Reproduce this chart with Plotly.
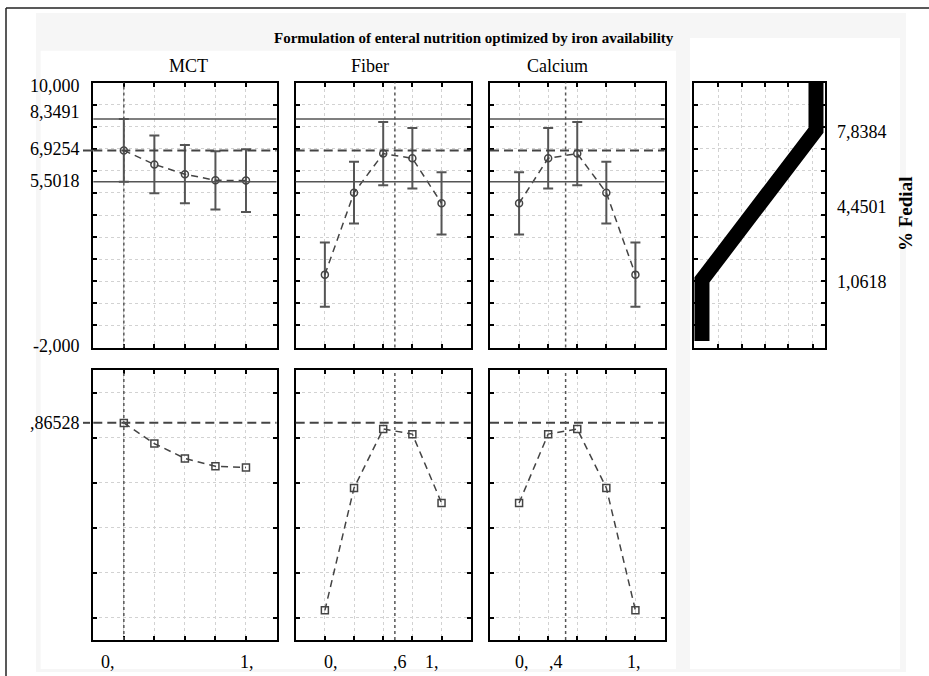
import plotly.graph_objects as go

W, H = 929, 676

# ---------------- data ----------------
levels = [0, 0.25, 0.5, 0.75, 1]
mct_pred = [6.9254, 6.29, 5.85, 5.57, 5.56]
mct_err = [1.4237, 1.31, 1.32, 1.32, 1.42]
fiber_pred = [1.30, 5.01, 6.78, 6.57, 4.53]
fiber_err = [1.45, 1.40, 1.43, 1.37, 1.41]
calcium_pred = [4.53, 6.57, 6.78, 5.01, 1.30]
calcium_err = [1.41, 1.37, 1.43, 1.40, 1.45]

mct_desir = [0.865, 0.773, 0.707, 0.672, 0.667]
fiber_desir = [0.032, 0.576, 0.838, 0.815, 0.509]
calcium_desir = [0.509, 0.815, 0.838, 0.576, 0.032]

factors = ["MCT", "Fiber", "Calcium"]
optimum = [0.0, 0.6, 0.4]
pred_opt = 6.9254
ci_high = 8.3491
ci_low = 5.5018
desir_opt = 0.86528

# desirability function for % Fedial (desirability vs response)
desfun_d = [0, 0, 1, 1]
desfun_p = [-1.7, 1.0618, 7.8384, 10.6]

top_labels = ["10,000", "8,3491", "6,9254", "5,5018", "-2,000"]
right_labels = ["7,8384", "4,4501", "1,0618"]
bottom_labels = [["0,", "1,"], ["0,", ",6", "1,"], ["0,", ",4", "1,"]]

# ---------------- layout helpers ----------------
def px(x):
    return x / W

def py(y):
    return 1 - y / H

SERIF = "Liberation Serif"
col_x = [(93.3, 276.5), (295.7, 470.7), (490.0, 664.5)]
top_y = (82.5, 347.5)
bot_y = (370.0, 640.0)
right_x = (694.0, 825.0)

fig = go.Figure()

axis_common = dict(
    showline=True, linecolor="black", linewidth=2, mirror="ticks",
    ticks="inside", ticklen=4, tickwidth=1.5, tickcolor="black",
    showticklabels=False, showgrid=True, gridcolor="#d2d2d2",
    griddash="dot", gridwidth=1, zeroline=False, fixedrange=True,
)

layout = dict(
    width=W, height=H, margin=dict(l=0, r=0, t=0, b=0),
    paper_bgcolor="white", plot_bgcolor="white", showlegend=False,
    font=dict(family=SERIF, color="black", size=18),
)

preds = [mct_pred, fiber_pred, calcium_pred]
errs = [mct_err, fiber_err, calcium_err]
desirs = [mct_desir, fiber_desir, calcium_desir]

shapes = []
annotations = []

for i in range(3):
    xa_t = i + 1
    xa_b = i + 4
    for k, yr, rng, tv in [
        (xa_t, top_y, [-2, 10], list(range(-1, 10))),
        (xa_b, bot_y, [-0.1, 1.1], [0, 0.2, 0.4, 0.6, 0.8, 1.0]),
    ]:
        sfx = "" if k == 1 else str(k)
        layout["xaxis" + sfx] = dict(
            axis_common, domain=[px(col_x[i][0]), px(col_x[i][1])],
            range=[-0.25, 1.25], tickvals=levels, anchor="y" + sfx,
        )
        layout["yaxis" + sfx] = dict(
            axis_common, domain=[py(yr[1]), py(yr[0])],
            range=rng, tickvals=tv, anchor="x" + sfx,
        )

    st = "" if xa_t == 1 else str(xa_t)
    sb = str(xa_b)

    # response curves with confidence intervals
    fig.add_trace(go.Scatter(
        x=levels, y=preds[i], xaxis="x" + st, yaxis="y" + st,
        mode="lines+markers",
        line=dict(color="#444", width=1.5, dash="7px,5px"),
        marker=dict(symbol="circle-open", size=7, color="#444", line=dict(width=1.5)),
        error_y=dict(type="data", array=errs[i], color="#555", thickness=2, width=5),
        hoverinfo="skip",
    ))
    # desirability curves
    fig.add_trace(go.Scatter(
        x=levels, y=desirs[i], xaxis="x" + sb, yaxis="y" + sb,
        mode="lines+markers",
        line=dict(color="#444", width=1.5, dash="7px,5px"),
        marker=dict(symbol="square-open", size=7, color="#444", line=dict(width=1.5)),
        hoverinfo="skip",
    ))

    # reference lines
    for val in (ci_high, ci_low):
        shapes.append(dict(type="line", xref="x" + st + " domain", yref="y" + st,
                           x0=0, x1=1, y0=val, y1=val,
                           line=dict(color="#555", width=1.5)))
    shapes.append(dict(type="line", xref="x" + st + " domain", yref="y" + st,
                       x0=0, x1=1, y0=pred_opt, y1=pred_opt,
                       line=dict(color="#444", width=2, dash="9px,5px")))
    shapes.append(dict(type="line", xref="x" + sb + " domain", yref="y" + sb,
                       x0=0, x1=1, y0=desir_opt, y1=desir_opt,
                       line=dict(color="#444", width=2, dash="9px,5px")))
    for s in (st, sb):
        shapes.append(dict(type="line", xref="x" + s, yref="y" + s + " domain",
                           x0=optimum[i], x1=optimum[i], y0=0, y1=1,
                           line=dict(color="#555", width=1.5, dash="dot")))

    # factor title
    title_cx = [188, 370, 557.5][i]
    annotations.append(dict(text=factors[i], x=px(title_cx), y=py(66), xref="paper", yref="paper",
                            showarrow=False, xanchor="center", yanchor="middle",
                            font=dict(family=SERIF, size=18)))

# small dashed stubs left of the MCT panels
shapes.append(dict(type="line", xref="paper", yref="y", x0=px(83), x1=px(93), y0=pred_opt, y1=pred_opt,
                   line=dict(color="#444", width=2)))
shapes.append(dict(type="line", xref="paper", yref="y4", x0=px(83), x1=px(90), y0=desir_opt, y1=desir_opt,
                   line=dict(color="#444", width=2)))

# right panel (desirability of % Fedial)
layout["xaxis7"] = dict(axis_common, domain=[px(right_x[0]), px(right_x[1])],
                        range=[-0.07, 1.079], tickvals=[0.143, 0.348, 0.553, 0.757, 0.971], anchor="y7")
layout["yaxis7"] = dict(axis_common, domain=[py(top_y[1]), py(top_y[0])],
                        range=[-2, 10], tickvals=list(range(-1, 10)), anchor="x7")
fig.add_trace(go.Scatter(
    x=desfun_d, y=desfun_p, xaxis="x7", yaxis="y7", mode="lines",
    line=dict(color="black", width=15), hoverinfo="skip",
))

# left tick labels (top row)
for txt, yc in zip(top_labels, [86, 112, 149, 181, 346]):
    annotations.append(dict(text=txt, x=px(82), y=py(yc), xref="paper", yref="paper",
                            showarrow=False, xanchor="right", yanchor="middle",
                            font=dict(family=SERIF, size=18)))
annotations.append(dict(text=",86528", x=px(82), y=py(423), xref="paper", yref="paper",
                        showarrow=False, xanchor="right", yanchor="middle",
                        font=dict(family=SERIF, size=18)))
# right tick labels
for txt, yc in zip(right_labels, [132, 207, 282]):
    annotations.append(dict(text=txt, x=px(835), y=py(yc), xref="paper", yref="paper",
                            showarrow=False, xanchor="left", yanchor="middle",
                            font=dict(family=SERIF, size=18)))
# bottom tick labels
bottom_pos = [[107.5, 247.5], [331, 400, 431.7], [521.5, 555.5, 633.5]]
for labs, poss in zip(bottom_labels, bottom_pos):
    for txt, xc in zip(labs, poss):
        annotations.append(dict(text=txt, x=px(xc), y=py(662), xref="paper", yref="paper",
                                showarrow=False, xanchor="center", yanchor="middle",
                                font=dict(family=SERIF, size=18)))

# main title and response label
annotations.append(dict(text="<b>Formulation of enteral nutrition optimized by iron availability</b>",
                        x=px(474.5), y=py(38), xref="paper", yref="paper", showarrow=False,
                        xanchor="center", yanchor="middle", font=dict(family=SERIF, size=15)))
annotations.append(dict(text="<b>% Fedial</b>", x=px(906), y=py(214), xref="paper", yref="paper",
                        showarrow=False, textangle=-90, xanchor="center", yanchor="middle",
                        font=dict(family=SERIF, size=19)))

# background panels and frame
bg = [
    dict(type="rect", xref="paper", yref="paper", x0=px(36), x1=px(906), y0=py(672), y1=py(13),
         fillcolor="#f6f6f6", line=dict(width=0), layer="below"),
    dict(type="rect", xref="paper", yref="paper", x0=px(40.7), x1=px(676), y0=py(669), y1=py(50.7),
         fillcolor="white", line=dict(width=0), layer="below"),
    dict(type="rect", xref="paper", yref="paper", x0=px(690), x1=px(900), y0=py(669), y1=py(38),
         fillcolor="white", line=dict(width=0), layer="below"),
    dict(type="line", xref="paper", yref="paper", x0=px(6), x1=1, y0=py(8), y1=py(8),
         line=dict(color="#222", width=1.5)),
    dict(type="line", xref="paper", yref="paper", x0=px(6), x1=px(6), y0=py(8), y1=0,
         line=dict(color="#222", width=1.5)),
]

layout["shapes"] = bg + shapes
layout["annotations"] = annotations
fig.update_layout(**layout)

fig.write_html("out.html", config={"displayModeBar": False},
               post_script="document.body.style.margin='0';document.body.style.overflow='hidden';")
